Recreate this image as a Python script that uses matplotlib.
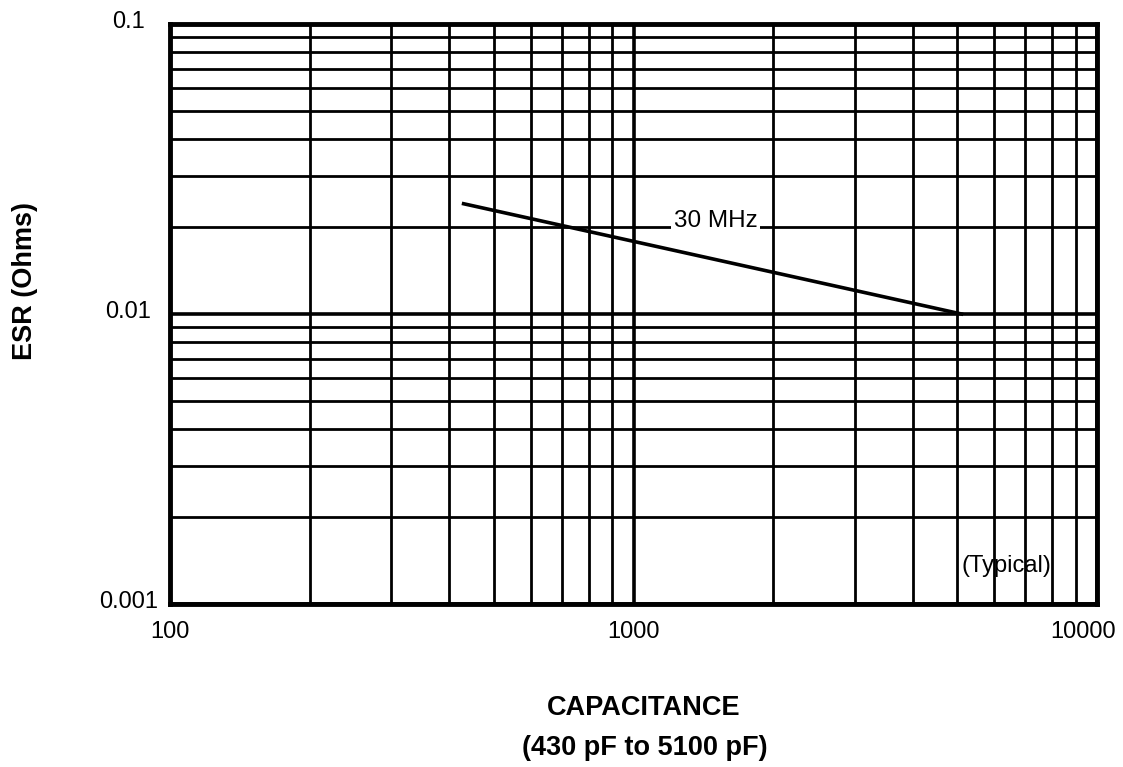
import numpy as np
import matplotlib.pyplot as plt
import matplotlib.transforms as mtransforms
from matplotlib.ticker import LogLocator, FixedLocator, NullFormatter

plt.rcParams['font.family'] = ['Liberation Sans', 'DejaVu Sans']

# data
cap_pf = [430, 5100]
esr_ohm = [0.024, 0.010]
x_ticks = [100, 1000, 10000]
x_tick_labels = ['100', '1000', '10000']
y_ticks = [0.001, 0.01, 0.1]
y_tick_labels = ['0.001', '0.01', '0.1']

W, H = 1123, 767
fig = plt.figure(figsize=(W / 100, H / 100), dpi=100)
ax = fig.add_axes([170 / W, 1 - 604 / H, 927 / W, 580 / H])

ax.set_xscale('log')
ax.set_yscale('log')
ax.set_xlim(100, 10000)
ax.set_ylim(0.001, 0.1)

ax.xaxis.set_major_locator(FixedLocator(x_ticks))
ax.yaxis.set_major_locator(FixedLocator(y_ticks))
ax.xaxis.set_minor_locator(LogLocator(base=10, subs=np.arange(2, 10)))
ax.yaxis.set_minor_locator(LogLocator(base=10, subs=np.arange(2, 10)))
ax.xaxis.set_minor_formatter(NullFormatter())
ax.yaxis.set_minor_formatter(NullFormatter())
ax.set_xticklabels(x_tick_labels, fontsize=17)
ax.set_yticklabels(y_tick_labels, fontsize=17, ha='center')
ax.tick_params(axis='x', which='both', length=0, pad=12.5)
ax.tick_params(axis='y', which='both', length=0, pad=30)

# labels sit a little above their grid lines, last x label pulled inside
for lab in ax.get_yticklabels():
    lab.set_transform(lab.get_transform() +
                      mtransforms.ScaledTranslation(0, 0.04, fig.dpi_scale_trans))
last = ax.get_xticklabels()[-1]
last.set_transform(last.get_transform() +
                   mtransforms.ScaledTranslation(-0.14, 0, fig.dpi_scale_trans))

ax.grid(True, which='major', color='black', linewidth=2.6)
ax.grid(True, which='minor', color='black', linewidth=2.0)
for s in ax.spines.values():
    s.set_linewidth(3.5)
    s.set_zorder(5)

ax.plot(cap_pf, esr_ohm, color='black', linewidth=2.6, zorder=4)

ax.text(1503, 0.0199, '30 MHz', fontsize=17.5, ha='center', va='baseline',
        bbox=dict(facecolor='white', edgecolor='none', pad=2), zorder=6)
ax.text(6364, 0.00129, '(Typical)', fontsize=17, ha='center', va='baseline',
        zorder=6)

fig.text(25 / W, 1 - 281 / H, 'ESR (Ohms)', rotation=90, fontsize=19.5,
         fontweight='bold', ha='center', va='center')
fig.text(644 / W, 1 - 715 / H, 'CAPACITANCE', fontsize=19.5,
         fontweight='bold', ha='center', va='baseline')
fig.text(645 / W, 1 - 755 / H, '(430 pF to 5100 pF)', fontsize=19.5,
         fontweight='bold', ha='center', va='baseline')

fig.savefig('out.png', dpi=100)
